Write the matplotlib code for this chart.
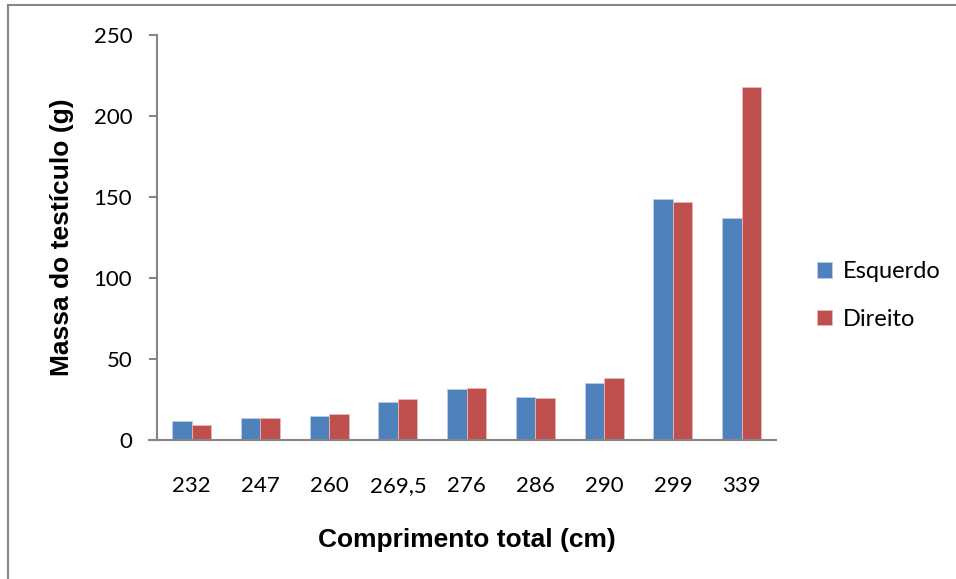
import numpy as np
import matplotlib.pyplot as plt
from matplotlib.lines import Line2D

comprimento = ["232", "247", "260", "269,5", "276", "286", "290", "299", "339"]
esquerdo = [11.7, 13.8, 14.6, 23.3, 31.5, 26.3, 35.2, 148.6, 137.2]
direito = [9.5, 13.8, 15.9, 25.3, 31.9, 25.9, 38.1, 146.9, 218.1]

azul = "#4F81BD"
vermelho = "#C0504D"
cinza = "#868686"
fonte = "Lato"

fig = plt.figure(figsize=(9.56, 5.79), dpi=100)
ax = fig.add_axes([0.1645, 0.2401, 0.6472, 0.6995])

x = np.arange(len(comprimento))
w = 0.283
ax.bar(x - w / 2, esquerdo, w, color=azul, edgecolor="#B9CDE5", linewidth=0.6, label="Esquerdo")
ax.bar(x + w / 2, direito, w, color=vermelho, edgecolor="#E6B9B8", linewidth=0.6, label="Direito")

ax.set_xlim(-0.5, len(comprimento) - 0.5)
ax.set_ylim(0, 250)
ax.set_yticks([0, 50, 100, 150, 200, 250])
ax.set_xticks(x)
ax.set_xticklabels(comprimento)

for lab in ax.get_xticklabels() + ax.get_yticklabels():
    lab.set_fontfamily(fonte)
    lab.set_fontsize(16)

ax.tick_params(axis="y", length=6, width=1.5, color=cinza, direction="out", pad=12)
ax.tick_params(axis="x", length=0, pad=26)

for s in ["top", "right"]:
    ax.spines[s].set_visible(False)
for s in ["left", "bottom"]:
    ax.spines[s].set_color(cinza)
    ax.spines[s].set_linewidth(1.5)
ax.spines["bottom"].set_bounds(-0.62, len(comprimento) - 0.5)

ax.set_ylabel("Massa do testículo (g)", fontfamily="Liberation Sans", fontweight="bold",
              fontsize=19, labelpad=14)
ax.set_xlabel("Comprimento total (cm)", fontfamily="Liberation Sans", fontweight="bold",
              fontsize=19, labelpad=23)

ax.legend(loc="center left", bbox_to_anchor=(1.032, 0.357), frameon=False,
          prop={"family": fonte, "size": 17}, handlelength=0.65, handleheight=0.65,
          handletextpad=0.45, labelspacing=1.14)

# bordas cinza (topo e esquerda) em volta da figura
fig.add_artist(Line2D([8 / 956, 1.0], [1 - 5 / 579, 1 - 5 / 579], transform=fig.transFigure,
                      color=cinza, linewidth=1.5))
fig.add_artist(Line2D([8 / 956, 8 / 956], [0.0, 1 - 5 / 579], transform=fig.transFigure,
                      color=cinza, linewidth=1.5))

fig.savefig("out.png", dpi=100)
